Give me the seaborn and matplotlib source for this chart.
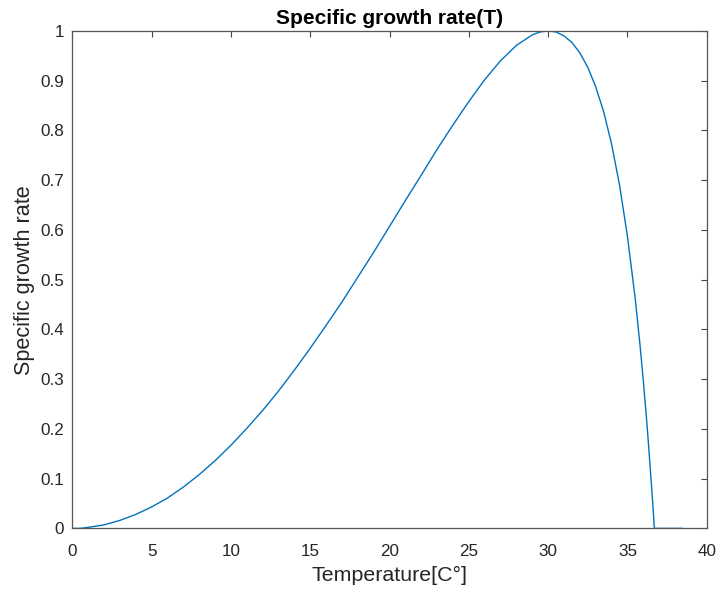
import matplotlib
matplotlib.use("Agg")
import matplotlib.pyplot as plt
import pandas as pd
import seaborn as sns

# temperature [C] and specific growth rate
temperature = [0, 0.5, 1, 2, 3, 4, 5, 6, 7, 8, 9, 10, 11, 12, 13, 14, 15, 16, 17, 18,
               19, 20, 21, 22, 23, 24, 25, 26, 27, 28, 29, 29.5, 30, 30.5, 31, 31.5,
               32, 32.5, 33, 33.5, 34, 34.5, 35, 35.5, 35.8, 36, 36.2, 36.3, 36.5,
               36.6, 36.7, 37.5, 38.5]
growth_rate = [0, 0, 0.002, 0.007, 0.016, 0.028, 0.043, 0.061, 0.083, 0.108, 0.136,
               0.167, 0.201, 0.237, 0.276, 0.318, 0.362, 0.408, 0.455, 0.505, 0.555,
               0.607, 0.659, 0.710, 0.762, 0.811, 0.858, 0.902, 0.940, 0.971, 0.992,
               0.998, 1.0, 0.998, 0.990, 0.977, 0.956, 0.927, 0.888, 0.838, 0.773,
               0.691, 0.588, 0.460, 0.367, 0.298, 0.223, 0.182, 0.095, 0.049, 0, 0, 0]

x_ticks = [0, 5, 10, 15, 20, 25, 30, 35, 40]
y_ticks = [0, 0.1, 0.2, 0.3, 0.4, 0.5, 0.6, 0.7, 0.8, 0.9, 1]
y_tick_labels = ["0", "0.1", "0.2", "0.3", "0.4", "0.5", "0.6", "0.7", "0.8", "0.9", "1"]

df = pd.DataFrame({"T": temperature, "mu": growth_rate})

sns.set_theme(style="white")
plt.rcParams["font.family"] = ["Liberation Sans", "DejaVu Sans"]

fig = plt.figure(figsize=(7.16, 5.95), dpi=100)
ax = fig.add_axes([0.101, 0.112, 0.886, 0.836])

sns.lineplot(data=df, x="T", y="mu", ax=ax, color="#0072BD", linewidth=1.0)

ax.set_xlim(0, 40)
ax.set_ylim(0, 1)
ax.set_xticks(x_ticks)
ax.set_xticklabels([str(t) for t in x_ticks])
ax.set_yticks(y_ticks)
ax.set_yticklabels(y_tick_labels)

for side in ["left", "right", "top", "bottom"]:
    ax.spines[side].set_visible(True)
    ax.spines[side].set_color("#555555")
    ax.spines[side].set_linewidth(0.9)

ax.tick_params(axis="both", direction="in", length=4, width=0.8, color="#444444",
               top=True, right=True, labelsize=12.3, labelcolor="#262626")
ax.tick_params(axis="x", pad=11)
ax.tick_params(axis="y", pad=6)

ax.set_xlabel("Temperature[C°]", fontsize=15.4, color="#262626", labelpad=5)
ax.set_ylabel("Specific growth rate", fontsize=15.6, color="#262626", labelpad=4)
ax.set_title("Specific growth rate(T)", fontsize=15, fontweight="bold", color="#000000", pad=5)

fig.savefig("out.png", dpi=100)
